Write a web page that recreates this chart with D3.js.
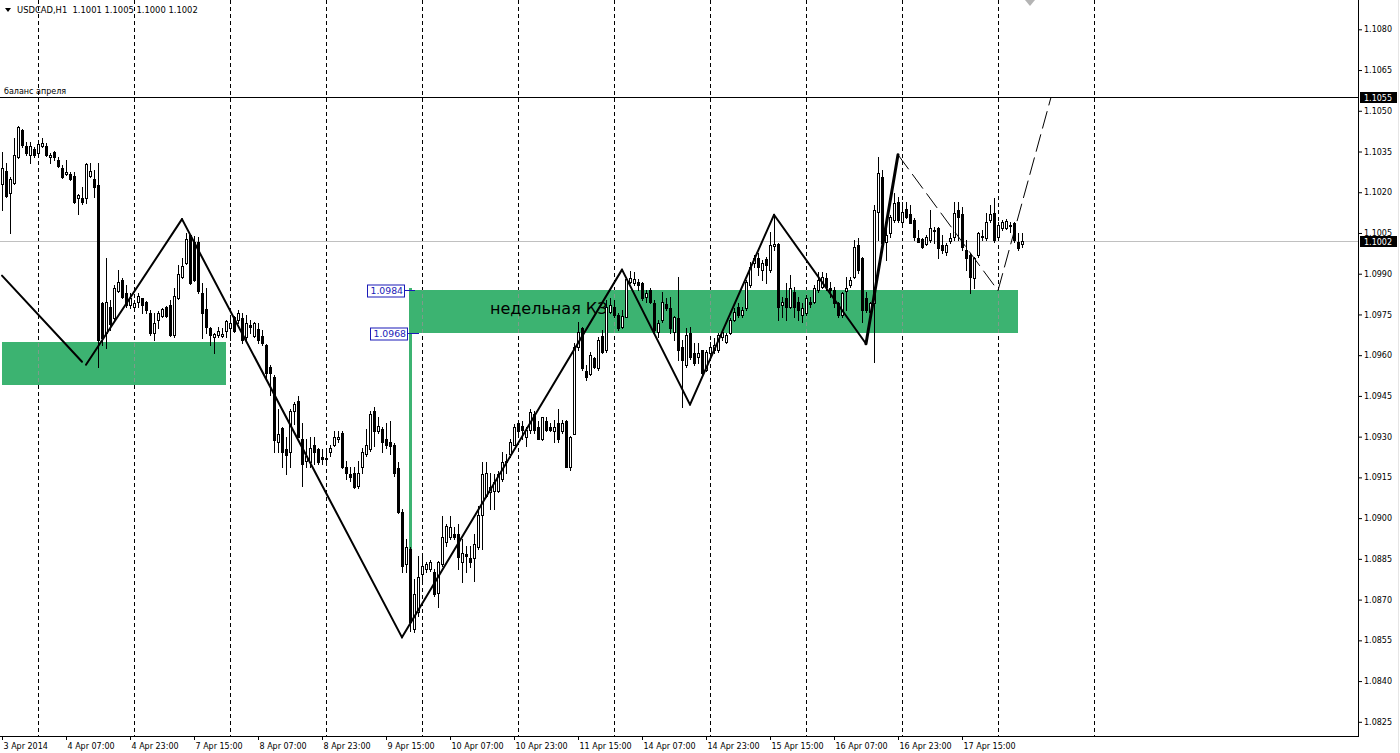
<!DOCTYPE html>
<html><head><meta charset="utf-8">
<script src="https://cdn.jsdelivr.net/npm/d3@7"></script>
<style>html,body{margin:0;padding:0;background:#fff;overflow:hidden}svg{display:block}</style>
</head><body><svg id="c" width="1400" height="753"></svg>
<script>
// ---------- DATA ----------
const headerText = "USDCAD,H1  1.1001 1.1005 1.1000 1.1002";
const opens = [1.10230,1.10278,1.10198,1.10234,1.10330,1.10429,1.10370,1.10338,1.10359,1.10345,
1.10370,1.10370,1.10330,1.10349,1.10319,1.10290,1.10267,1.10267,1.10260,1.10180,
1.10180,1.10180,1.10260,1.10249,1.10227,1.09793,1.09683,1.09778,1.09738,1.09837,
1.09878,1.09830,1.09786,1.09778,1.09797,1.09812,1.09797,1.09756,1.09683,1.09731,
1.09745,1.09778,1.09786,1.09676,1.09812,1.09889,1.09940,1.10043,1.10018,1.10018,
1.09830,1.09771,1.09701,1.09668,1.09676,1.09672,1.09690,1.09701,1.09742,1.09731,
1.09738,1.09668,1.09712,1.09672,1.09698,1.09672,1.09639,1.09558,1.09521,1.09279,
1.09333,1.09253,1.09242,1.09396,1.09430,1.09290,1.09209,1.09205,1.09268,1.09253,
1.09224,1.09216,1.09242,1.09271,1.09290,1.09315,1.09187,1.09161,1.09168,1.09117,
1.09187,1.09235,1.09253,1.09393,1.09322,1.09330,1.09293,1.09282,1.09271,1.09183,
1.09021,1.08830,1.08885,1.08591,1.08654,1.08793,1.08812,1.08812,1.08801,1.08723,
1.08830,1.08911,1.08929,1.08940,1.08940,1.08837,1.08867,1.08852,1.08852,1.08892,
1.09010,1.09080,1.09095,1.09099,1.09099,1.09143,1.09209,1.09235,1.09271,1.09352,
1.09341,1.09300,1.09326,1.09382,1.09337,1.09290,1.09356,1.09337,1.09319,1.09352,
1.09319,1.09359,1.09187,1.09311,1.09631,1.09701,1.09540,1.09532,1.09591,1.09551,
1.09672,1.09620,1.09760,1.09778,1.09749,1.09705,1.09742,1.09871,1.09867,1.09871,
1.09867,1.09815,1.09841,1.09793,1.09687,1.09731,1.09789,1.09775,1.09687,1.09738,
1.09631,1.09565,1.09683,1.09609,1.09594,1.09620,1.09547,1.09609,1.09620,1.09620,
1.09668,1.09650,1.09683,1.09731,1.09778,1.09749,1.09775,1.09860,1.09940,1.09959,
1.09915,1.09955,1.09915,1.10003,1.10010,1.09786,1.09812,1.09778,1.09834,1.09797,
1.09749,1.09756,1.09797,1.09797,1.09841,1.09852,1.09885,1.09849,1.09841,1.09793,
1.09749,1.09837,1.09860,1.09889,1.10006,1.09959,1.09812,1.09760,1.09793,1.10128,
1.10256,1.10018,1.10050,1.10098,1.10165,1.10091,1.10139,1.10120,1.10098,1.10032,
1.10028,1.10010,1.10025,1.10058,1.10069,1.10006,1.09981,1.10021,1.10035,1.10135,
1.10120,1.09988,1.09970,1.09885,1.09970,1.10035,1.10032,1.10098,1.10124,1.10035,
1.10069,1.10069,1.10080,1.10087,1.10018,1.1001];
const highs = [1.10349,1.10308,1.10256,1.10400,1.10444,1.10433,1.10385,1.10385,1.10366,1.10381,
1.10400,1.10381,1.10345,1.10352,1.10330,1.10301,1.10319,1.10275,1.10275,1.10194,
1.10219,1.10308,1.10308,1.10282,1.10308,1.09797,1.09959,1.09804,1.09860,1.09915,
1.09885,1.09860,1.09830,1.09804,1.09830,1.09812,1.09800,1.09767,1.09756,1.09763,
1.09775,1.09782,1.09804,1.09849,1.09933,1.09959,1.10050,1.10046,1.10039,1.10035,
1.09867,1.09849,1.09705,1.09683,1.09705,1.09701,1.09731,1.09734,1.09745,1.09767,
1.09756,1.09749,1.09731,1.09723,1.09720,1.09694,1.09642,1.09565,1.09528,1.09400,
1.09337,1.09300,1.09400,1.09426,1.09448,1.09352,1.09290,1.09300,1.09300,1.09260,
1.09253,1.09242,1.09268,1.09319,1.09319,1.09319,1.09209,1.09190,1.09190,1.09209,
1.09260,1.09330,1.09393,1.09411,1.09371,1.09337,1.09352,1.09356,1.09275,1.09205,
1.09032,1.08922,1.08892,1.08775,1.08859,1.08859,1.08837,1.08845,1.08812,1.08841,
1.09007,1.08977,1.09007,1.08967,1.08977,1.08922,1.08896,1.08896,1.08940,1.09043,
1.09205,1.09205,1.09168,1.09161,1.09172,1.09242,1.09235,1.09290,1.09348,1.09356,
1.09356,1.09337,1.09400,1.09393,1.09356,1.09374,1.09371,1.09352,1.09363,1.09400,
1.09363,1.09363,1.09304,1.09646,1.09723,1.09705,1.09565,1.09613,1.09594,1.09668,
1.09694,1.09804,1.09812,1.09804,1.09756,1.09767,1.09889,1.09911,1.09907,1.09882,
1.09871,1.09841,1.09849,1.09804,1.09731,1.09834,1.09812,1.09815,1.09745,1.09889,
1.09657,1.09701,1.09705,1.09646,1.09646,1.09620,1.09620,1.09650,1.09665,1.09683,
1.09694,1.09683,1.09738,1.09775,1.09793,1.09778,1.09878,1.09944,1.09970,1.09977,
1.09951,1.09962,1.10054,1.10120,1.10014,1.09815,1.09867,1.09896,1.09852,1.09815,
1.09793,1.09823,1.09815,1.09860,1.09907,1.09907,1.09904,1.09871,1.09852,1.09797,
1.09834,1.09889,1.09889,1.10025,1.10032,1.09962,1.09834,1.09797,1.10154,1.10330,
1.10282,1.10098,1.10117,1.10198,1.10183,1.10165,1.10165,1.10154,1.10106,1.10061,
1.10032,1.10043,1.10135,1.10072,1.10072,1.10043,1.10014,1.10050,1.10165,1.10165,
1.10146,1.10025,1.09977,1.09962,1.10054,1.10061,1.10124,1.10154,1.10180,1.10091,
1.10098,1.10102,1.10091,1.10091,1.10050,1.1005];
const lows = [1.10135,1.10183,1.10050,1.10230,1.10327,1.10366,1.10338,1.10308,1.10330,1.10341,
1.10366,1.10334,1.10308,1.10319,1.10293,1.10253,1.10264,1.10245,1.10161,1.10120,
1.10157,1.10161,1.10256,1.10183,1.09558,1.09639,1.09628,1.09694,1.09731,1.09834,
1.09812,1.09778,1.09775,1.09767,1.09778,1.09756,1.09756,1.09676,1.09657,1.09701,
1.09742,1.09742,1.09672,1.09668,1.09808,1.09885,1.09937,1.09863,1.09874,1.09830,
1.09665,1.09683,1.09639,1.09609,1.09668,1.09668,1.09668,1.09657,1.09687,1.09720,
1.09646,1.09657,1.09683,1.09668,1.09646,1.09639,1.09510,1.09455,1.09242,1.09242,
1.09190,1.09161,1.09190,1.09345,1.09297,1.09117,1.09190,1.09190,1.09198,1.09198,
1.09198,1.09198,1.09227,1.09264,1.09282,1.09183,1.09143,1.09136,1.09110,1.09110,
1.09168,1.09227,1.09249,1.09264,1.09315,1.09242,1.09260,1.09235,1.09154,1.09018,
1.08801,1.08801,1.08584,1.08580,1.08639,1.08756,1.08801,1.08804,1.08712,1.08672,
1.08823,1.08896,1.08922,1.08922,1.08812,1.08764,1.08801,1.08819,1.08767,1.08885,
1.08885,1.09077,1.09032,1.09032,1.09095,1.09136,1.09168,1.09224,1.09268,1.09300,
1.09290,1.09264,1.09315,1.09315,1.09290,1.09286,1.09319,1.09319,1.09282,1.09282,
1.09315,1.09187,1.09179,1.09308,1.09620,1.09547,1.09510,1.09528,1.09554,1.09547,
1.09609,1.09613,1.09756,1.09742,1.09694,1.09701,1.09742,1.09867,1.09860,1.09841,
1.09804,1.09797,1.09793,1.09683,1.09668,1.09723,1.09767,1.09683,1.09657,1.09584,
1.09411,1.09558,1.09587,1.09565,1.09573,1.09528,1.09540,1.09594,1.09609,1.09613,
1.09657,1.09646,1.09679,1.09727,1.09742,1.09742,1.09767,1.09852,1.09926,1.09896,
1.09878,1.09867,1.09907,1.09988,1.09731,1.09742,1.09731,1.09775,1.09742,1.09731,
1.09723,1.09749,1.09778,1.09793,1.09834,1.09849,1.09841,1.09815,1.09778,1.09742,
1.09742,1.09767,1.09852,1.09885,1.09904,1.09723,1.09760,1.09756,1.09576,1.10025,
1.10006,1.09951,1.10035,1.10091,1.10091,1.10087,1.10106,1.10087,1.10025,1.10018,
1.09995,1.10006,1.10018,1.10014,1.09959,1.09977,1.09970,1.10014,1.10025,1.10025,
1.09988,1.09915,1.09830,1.09849,1.09962,1.10025,1.10025,1.10091,1.10018,1.10032,
1.10061,1.10065,1.10054,1.10018,1.09988,1.1000];
const closes = [1.10290,1.10187,1.10249,1.10338,1.10440,1.10374,1.10345,1.10370,1.10338,1.10378,
1.10381,1.10338,1.10338,1.10330,1.10297,1.10256,1.10275,1.10249,1.10165,1.10191,
1.10165,1.10304,1.10278,1.10219,1.09657,1.09665,1.09797,1.09716,1.09849,1.09871,
1.09815,1.09786,1.09812,1.09793,1.09819,1.09786,1.09767,1.09683,1.09720,1.09756,
1.09771,1.09745,1.09676,1.09819,1.09900,1.09929,1.10028,1.09867,1.09878,1.09837,
1.09756,1.09705,1.09676,1.09679,1.09690,1.09679,1.09727,1.09720,1.09690,1.09756,
1.09657,1.09720,1.09705,1.09720,1.09657,1.09646,1.09536,1.09536,1.09286,1.09311,
1.09242,1.09231,1.09393,1.09422,1.09300,1.09198,1.09227,1.09260,1.09242,1.09205,
1.09216,1.09220,1.09260,1.09300,1.09300,1.09187,1.09168,1.09150,1.09114,1.09168,
1.09242,1.09271,1.09382,1.09319,1.09341,1.09279,1.09271,1.09264,1.09168,1.09021,
1.08823,1.08892,1.08617,1.08720,1.08782,1.08823,1.08830,1.08837,1.08720,1.08837,
1.08929,1.08970,1.08967,1.08929,1.08856,1.08870,1.08859,1.08837,1.08903,1.09010,
1.09161,1.09168,1.09114,1.09132,1.09161,1.09205,1.09205,1.09282,1.09337,1.09319,
1.09326,1.09326,1.09389,1.09326,1.09293,1.09371,1.09326,1.09326,1.09337,1.09290,
1.09352,1.09190,1.09300,1.09631,1.09687,1.09554,1.09518,1.09602,1.09558,1.09657,
1.09613,1.09778,1.09786,1.09749,1.09701,1.09745,1.09882,1.09885,1.09882,1.09860,
1.09812,1.09830,1.09797,1.09694,1.09720,1.09797,1.09775,1.09701,1.09742,1.09620,
1.09584,1.09676,1.09594,1.09573,1.09609,1.09536,1.09613,1.09631,1.09639,1.09676,
1.09687,1.09676,1.09731,1.09760,1.09749,1.09767,1.09871,1.09926,1.09959,1.09926,
1.09940,1.09933,1.10006,1.10010,1.09778,1.09797,1.09778,1.09849,1.09778,1.09767,
1.09775,1.09812,1.09789,1.09849,1.09878,1.09889,1.09852,1.09841,1.09793,1.09749,
1.09830,1.09849,1.09878,1.09999,1.09915,1.09767,1.09767,1.09793,1.10135,1.10271,
1.10014,1.10043,1.10109,1.10161,1.10098,1.10128,1.10109,1.10087,1.10035,1.10018,
1.09999,1.10035,1.10069,1.10061,1.09995,1.09988,1.10006,1.10032,1.10124,1.10109,
1.09999,1.09959,1.09889,1.09959,1.10050,1.10039,1.10091,1.10120,1.10025,1.10080,
1.10091,1.10095,1.10076,1.10025,1.09995,1.1002];

const priceTicks = [1.0825,1.0840,1.0855,1.0870,1.0885,1.0900,1.0915,1.0930,1.0945,1.0960,1.0975,1.0990,1.1005,1.1020,1.1035,1.1050,1.1065,1.1080];
const dateLabels = ["3 Apr 2014","4 Apr 07:00","4 Apr 23:00","7 Apr 15:00","8 Apr 07:00","8 Apr 23:00","9 Apr 15:00","10 Apr 07:00","10 Apr 23:00","11 Apr 15:00","14 Apr 07:00","14 Apr 23:00","15 Apr 15:00","16 Apr 07:00","16 Apr 23:00","17 Apr 15:00"];
const dateLabelBars = [0,16,32,48,64,80,96,112,128,144,160,176,192,208,224,240];
const gridBars = [9,33,57,81,105,129,153,177,201,225,249,273];

// zones (bar index range, price top/bottom)
const zoneFrom = [0,102], zoneTo = [56,254], zoneTop = [1.0965,1.0984], zoneBottom = [1.0949,1.0968];
const zoneText = "недельная КЗ", zoneTextBar = 122, zoneTextPrice = 1.09752;
// solid zigzag segments: [barA, priceA, barB, priceB, width]
const zigSolid = [[0,1.09893,20,1.09576,2],[21,1.09565,45,1.10101,2],[45,1.10101,100,1.08561,2],
 [100,1.08561,155,1.09915,2],[155,1.09915,172,1.09418,2],[172,1.09418,193,1.10117,2],
 [193,1.10117,216,1.09642,2],[216,1.09642,224,1.10338,3]];
const zigDashed = [[224,1.10338,249,1.09838],[249,1.09838,262.2,1.10547]];
const hLinePrice = 1.1055, hLineText = "баланс апреля";
const bidPrice = 1.1002;
const markerBar = 102, markerTop = 1.0984, markerBottom = 1.0968, markerLineEnd = 1.0888;

// ---------- CHART ----------
const W = 1400, H = 753, plotR = 1358, plotB = 736;
const svg = d3.select("#c");
const x = d3.scaleLinear().domain([0, 255]).range([2, 1022]);
const y = d3.scaleLinear().domain([1.1080, 1.0825]).range([29.3, 721.8]);
const FONT = "DejaVu Sans, Verdana, sans-serif";
const px = v => Math.round(x(v));
const py = v => Math.round(y(v));

svg.append("rect").attr("width", W).attr("height", H).attr("fill", "#fff");
const defs = svg.append("defs");
defs.append("clipPath").attr("id", "plot").append("rect").attr("x", 0).attr("y", 0).attr("width", plotR).attr("height", plotB);
const zc = defs.append("clipPath").attr("id", "zones");
zoneFrom.forEach((f, k) => zc.append("rect").attr("x", x(f)).attr("y", y(zoneTop[k])).attr("width", x(zoneTo[k]) - x(f)).attr("height", y(zoneBottom[k]) - y(zoneTop[k])));

const g = svg.append("g").attr("clip-path", "url(#plot)");

// grid
g.append("g").selectAll("line").data(gridBars).join("line")
  .attr("x1", d => px(d) + 0.5).attr("x2", d => px(d) + 0.5).attr("y1", 0).attr("y2", plotB)
  .attr("stroke", "#000").attr("stroke-dasharray", "4,3").attr("shape-rendering", "crispEdges");

// zones
g.append("g").selectAll("rect").data(zoneFrom).join("rect")
  .attr("x", (d) => x(d)).attr("width", (d, k) => x(zoneTo[k]) - x(d))
  .attr("y", (d, k) => y(zoneTop[k])).attr("height", (d, k) => y(zoneBottom[k]) - y(zoneTop[k]))
  .attr("fill", "#3cb371").attr("shape-rendering", "crispEdges");
// grid over zones
g.append("g").attr("clip-path", "url(#zones)").selectAll("line").data(gridBars).join("line")
  .attr("x1", d => px(d) + 0.5).attr("x2", d => px(d) + 0.5).attr("y1", 0).attr("y2", plotB)
  .attr("stroke", "#7c9c8a").attr("stroke-dasharray", "4,3").attr("shape-rendering", "crispEdges");

// zone text
g.append("text").attr("x", x(zoneTextBar)).attr("y", y(zoneTextPrice))
  .attr("font-family", FONT).attr("font-size", 16).attr("fill", "#000").text(zoneText);

// green marker line
g.append("line").attr("x1", x(markerBar) + 0.5).attr("x2", x(markerBar) + 0.5)
  .attr("y1", y(markerTop) - 2).attr("y2", y(markerLineEnd))
  .attr("stroke", "#3cb371").attr("stroke-width", 3);

// horizontal line 1.1055
g.append("line").attr("x1", 0).attr("x2", plotR).attr("y1", py(hLinePrice) + 0.5).attr("y2", py(hLinePrice) + 0.5)
  .attr("stroke", "#000").attr("shape-rendering", "crispEdges");
g.append("text").attr("x", 4).attr("y", py(hLinePrice) - 3).attr("font-family", FONT).attr("font-size", 8)
  .attr("fill", "#000").text(hLineText);

// bid line
g.append("line").attr("x1", 0).attr("x2", plotR).attr("y1", py(bidPrice) + 0.5).attr("y2", py(bidPrice) + 0.5)
  .attr("stroke", "#c0c0c0").attr("shape-rendering", "crispEdges");

// candles
const idx = d3.range(opens.length);
const cg = g.append("g").attr("shape-rendering", "crispEdges");
cg.selectAll("rect.w").data(idx).join("rect").attr("class", "w")
  .attr("x", i => px(i)).attr("width", 1)
  .attr("y", i => py(highs[i])).attr("height", i => Math.max(1, py(lows[i]) - py(highs[i]) + 1))
  .attr("fill", "#000");
cg.selectAll("rect.b").data(idx).join("rect").attr("class", "b")
  .attr("x", i => px(i) - 1).attr("width", 3)
  .attr("y", i => py(Math.max(opens[i], closes[i])))
  .attr("height", i => Math.max(1, py(Math.min(opens[i], closes[i])) - py(Math.max(opens[i], closes[i])) + 1))
  .attr("fill", "#000");
cg.selectAll("rect.i").data(idx.filter(i => closes[i] > opens[i] && py(opens[i]) - py(closes[i]) >= 2)).join("rect").attr("class", "i")
  .attr("x", i => px(i)).attr("width", 1)
  .attr("y", i => py(closes[i]) + 1)
  .attr("height", i => py(opens[i]) - py(closes[i]) - 1)
  .attr("fill", "#fff");

// zigzag
g.append("g").selectAll("line").data(zigSolid).join("line")
  .attr("x1", d => x(d[0])).attr("y1", d => y(d[1])).attr("x2", d => x(d[2])).attr("y2", d => y(d[3]))
  .attr("stroke", "#000").attr("stroke-width", d => d[4]).attr("stroke-linecap", "round");
g.append("g").selectAll("line").data(zigDashed).join("line")
  .attr("x1", d => x(d[0])).attr("y1", d => y(d[1])).attr("x2", d => x(d[2])).attr("y2", d => y(d[3]))
  .attr("stroke", "#000").attr("stroke-width", 1).attr("stroke-dasharray", "18,6");

// blue price labels of marker
const blue = "#1a1ab8";
[[markerTop, 5, 5], [markerBottom, 2, 9]].forEach(([p, off, ext]) => {
  const yy = py(p) + 0.5, right = px(markerBar) - off;
  const t = g.append("text").attr("x", right - 2).attr("y", yy + 3.5).attr("text-anchor", "end")
    .attr("font-family", FONT).attr("font-size", 9.3).attr("fill", blue).text(p.toFixed(4));
  const bb = t.node().getBBox();
  g.insert("rect", () => t.node()).attr("x", Math.round(bb.x) - 2.5).attr("y", Math.round(yy) - 6)
    .attr("width", Math.round(right - bb.x) + 2).attr("height", 12).attr("fill", "#fff").attr("stroke", blue);
  g.append("line").attr("x1", right).attr("x2", px(markerBar) + ext).attr("y1", yy).attr("y2", yy)
    .attr("stroke", blue).attr("shape-rendering", "crispEdges");
});

// axes frame
svg.append("line").attr("x1", plotR + 0.5).attr("x2", plotR + 0.5).attr("y1", 0).attr("y2", plotB + 1)
  .attr("stroke", "#000").attr("shape-rendering", "crispEdges");
svg.append("line").attr("x1", 0).attr("x2", plotR + 1).attr("y1", plotB + 0.5).attr("y2", plotB + 0.5)
  .attr("stroke", "#000").attr("shape-rendering", "crispEdges");

// right axis
const ra = svg.append("g").attr("transform", `translate(${plotR},0)`)
  .call(d3.axisRight(y).tickValues(priceTicks).tickSize(4).tickPadding(2).tickFormat(d3.format(".4f")));
ra.select(".domain").remove();
ra.selectAll("text").attr("font-family", FONT).attr("font-size", 8).attr("fill", "#000");
ra.selectAll("line").attr("stroke", "#000");

// bottom axis
const ba = svg.append("g").attr("transform", `translate(0,${plotB})`)
  .call(d3.axisBottom(x).tickValues(dateLabelBars).tickSize(4).tickPadding(3).tickFormat((d, i) => dateLabels[i]));
ba.select(".domain").remove();
ba.selectAll("text").attr("font-family", FONT).attr("font-size", 8).attr("fill", "#000")
  .attr("text-anchor", "start").attr("x", 1);
ba.selectAll("line").attr("stroke", "#000");

// price boxes
[hLinePrice, bidPrice].forEach(p => {
  const yy = py(p);
  svg.append("rect").attr("x", plotR + 2).attr("y", yy - 5).attr("width", 37).attr("height", 11).attr("fill", "#000");
  svg.append("text").attr("x", plotR + 6).attr("y", yy + 3.5).attr("font-family", FONT).attr("font-size", 8)
    .attr("fill", "#fff").text(p.toFixed(4));
});

// header
svg.append("path").attr("d", "M5,8 L11,8 L8,12 Z").attr("fill", "#000");
svg.append("text").attr("x", 17).attr("y", 13).attr("font-family", FONT).attr("font-size", 8.4)
  .attr("fill", "#000").style("white-space", "pre").attr("xml:space", "preserve").text(headerText);

// shift marker
svg.append("path").attr("d", `M${x(257) - 5},0 L${x(257) + 5},0 L${x(257)},6 Z`).attr("fill", "#b4b4b4");
svg.append("line").attr("x1", 1398.5).attr("x2", 1398.5).attr("y1", 0).attr("y2", H).attr("stroke", "#e6e6e6");
</script></body></html>
